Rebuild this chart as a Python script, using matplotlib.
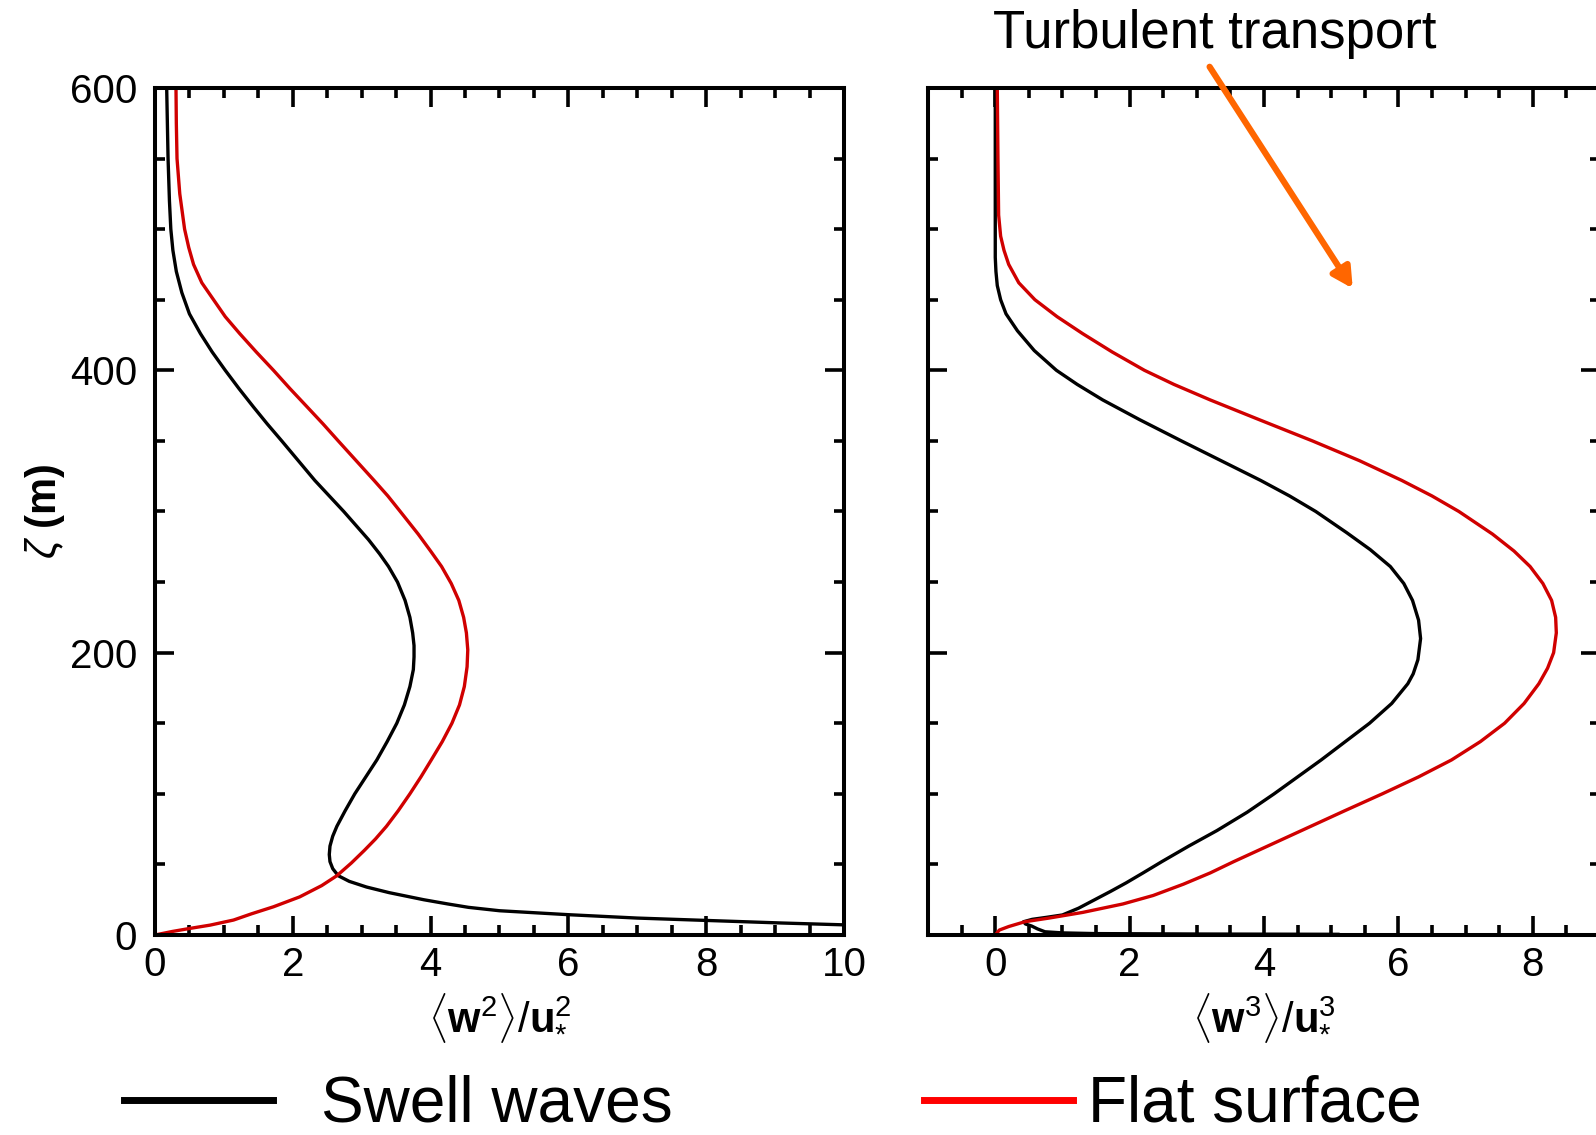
import matplotlib.pyplot as plt
from matplotlib.lines import Line2D
from matplotlib.ticker import MultipleLocator

plt.rcParams["font.family"] = "Liberation Sans"
plt.rcParams["mathtext.fontset"] = "custom"
plt.rcParams["mathtext.rm"] = "Liberation Sans"
plt.rcParams["mathtext.bf"] = "Liberation Sans:bold"
plt.rcParams["mathtext.it"] = "Liberation Sans:italic"

# <w^2>/u*^2 profiles
zeta_w2_swell = [600, 550, 520, 500, 485, 470, 455, 440, 426, 413, 400, 387, 374, 362, 350,
                 336, 322, 311, 300, 290, 280, 270, 261, 250, 237, 225, 214, 205, 197, 188,
                 176, 163, 150, 137, 124, 112, 100, 88, 77, 70, 63, 57, 52, 47, 42, 38, 34,
                 30, 27, 25, 22, 19.6, 17.2, 14.4, 12, 10, 8.5, 7.2]
w2_swell = [0.17, 0.19, 0.21, 0.23, 0.26, 0.31, 0.39, 0.50, 0.66, 0.83, 1.02, 1.22, 1.43,
            1.63, 1.84, 2.08, 2.32, 2.53, 2.74, 2.92, 3.10, 3.26, 3.39, 3.52, 3.63, 3.70,
            3.74, 3.76, 3.76, 3.75, 3.70, 3.62, 3.51, 3.37, 3.22, 3.06, 2.90, 2.76, 2.64,
            2.58, 2.54, 2.53, 2.54, 2.58, 2.66, 2.82, 3.07, 3.40, 3.70, 3.90, 4.25, 4.55,
            5.00, 6.00, 7.00, 8.20, 9.10, 10.0]

zeta_w2_flat = [600, 575, 550, 525, 500, 487, 475, 462, 450, 438, 426, 413, 400, 387, 374,
                362, 350, 336, 322, 311, 300, 284, 272, 261, 249, 237, 225, 214, 202, 190,
                176, 163, 150, 137, 124, 112, 100, 88, 77, 68, 60, 51, 42, 35, 27, 20, 15,
                10.6, 7, 4.7, 2.5, 0]
w2_flat = [0.305, 0.31, 0.32, 0.36, 0.43, 0.49, 0.56, 0.68, 0.85, 1.02, 1.23, 1.47, 1.72,
           1.96, 2.21, 2.44, 2.66, 2.92, 3.18, 3.38, 3.56, 3.82, 4.00, 4.16, 4.30, 4.41,
           4.48, 4.52, 4.54, 4.53, 4.49, 4.42, 4.31, 4.17, 4.01, 3.86, 3.70, 3.53, 3.36,
           3.20, 3.04, 2.85, 2.64, 2.42, 2.10, 1.72, 1.40, 1.14, 0.80, 0.51, 0.25, 0.0]

# <w^3>/u*^3 profiles
zeta_w3_swell = [600, 520, 480, 470, 460, 450, 440, 428, 414, 400, 390, 379, 365, 350, 336,
                 322, 311, 300, 285, 273, 261, 249, 237, 223, 210, 195, 185, 178, 164, 150,
                 137, 124, 112, 100, 87, 74, 63, 52, 44, 37, 31, 25, 19, 14.2, 12.5, 11.1,
                 9.4, 7.8, 6.4, 4.3, 2.3, 1.5, 1.0, 0.7, 0.5]
w3_swell = [0.0, 0.0, 0.0, 0.01, 0.03, 0.08, 0.16, 0.33, 0.58, 0.91, 1.22, 1.60, 2.15, 2.77,
            3.36, 3.95, 4.38, 4.77, 5.23, 5.58, 5.88, 6.08, 6.21, 6.30, 6.33, 6.29, 6.22,
            6.14, 5.90, 5.57, 5.21, 4.85, 4.50, 4.15, 3.75, 3.30, 2.88, 2.48, 2.20, 1.95,
            1.72, 1.48, 1.24, 1.00, 0.76, 0.55, 0.42, 0.45, 0.54, 0.63, 0.74, 1.00, 1.50,
            3.00, 5.10]

zeta_w3_flat = [600, 550, 510, 495, 485, 475, 462, 450, 438, 426, 413, 400, 390, 379, 365,
                350, 336, 322, 311, 300, 284, 272, 261, 249, 237, 225, 214, 200, 189, 178,
                164, 150, 137, 124, 112, 100, 88, 76, 64, 52, 44, 36, 28, 22, 16, 12, 9.4,
                6, 3.5, 0]
w3_flat = [0.03, 0.04, 0.05, 0.08, 0.13, 0.20, 0.35, 0.59, 0.92, 1.30, 1.74, 2.22, 2.66,
           3.20, 3.93, 4.72, 5.42, 6.05, 6.50, 6.90, 7.40, 7.72, 7.96, 8.15, 8.28, 8.34,
           8.35, 8.31, 8.22, 8.09, 7.87, 7.58, 7.22, 6.79, 6.30, 5.76, 5.20, 4.65, 4.10,
           3.55, 3.20, 2.80, 2.35, 1.90, 1.30, 0.80, 0.44, 0.20, 0.06, 0.0]

swell_color = "black"
flat_color = "#d00000"


def style_axis(ax, xlim, show_ylabels):
    ax.set_xlim(*xlim)
    ax.set_ylim(0, 600)
    ax.xaxis.set_major_locator(MultipleLocator(2))
    ax.xaxis.set_minor_locator(MultipleLocator(0.5))
    ax.yaxis.set_major_locator(MultipleLocator(200))
    ax.yaxis.set_minor_locator(MultipleLocator(50))
    ax.tick_params(which="both", direction="in", top=True, right=True,
                   width=2.6, labelsize=29, labelleft=show_ylabels)
    ax.tick_params(which="major", length=14)
    ax.tick_params(which="minor", length=7.5)
    ax.tick_params(axis="x", pad=8)
    ax.tick_params(axis="y", pad=13)
    for spine in ax.spines.values():
        spine.set_linewidth(2.9)


fig = plt.figure(figsize=(15.96, 11.35), dpi=100)
ax1 = fig.add_axes([0.0971, 0.1762, 0.4317, 0.7463])
ax2 = fig.add_axes([0.5815, 0.1762, 0.4210, 0.7463])

ax1.plot(w2_swell, zeta_w2_swell, color=swell_color, lw=2.4)
ax1.plot(w2_flat, zeta_w2_flat, color=flat_color, lw=2.4)
style_axis(ax1, (0, 10), True)
ax1.set_xlabel(r"$\langle\mathbf{w}^{2}\rangle/\mathbf{u}_{*}^{2}$", fontsize=30, labelpad=5)
ax1.set_ylabel(r"$\zeta$ (m)", fontsize=30, fontweight="bold")
ax1.yaxis.set_label_coords(-0.128, 0.5)

ax2.plot(w3_swell, zeta_w3_swell, color=swell_color, lw=2.4)
ax2.plot(w3_flat, zeta_w3_flat, color=flat_color, lw=2.4)
style_axis(ax2, (-1, 9), False)
ax2.set_xlabel(r"$\langle\mathbf{w}^{3}\rangle/\mathbf{u}_{*}^{3}$", fontsize=30, labelpad=5)

ax2.annotate("", xy=(5.32, 458), xytext=(3.19, 615),
             arrowprops=dict(arrowstyle="-|>,head_length=0.6,head_width=0.32",
                             color="#ff6600", lw=4.5, mutation_scale=20,
                             shrinkA=0, shrinkB=0),
             annotation_clip=False)
fig.text(1215 / 1596, 1 - 48 / 1135, "Turbulent transport", ha="center",
         va="baseline", fontsize=38)

legend_y = 1 - 1105 / 1135
fig.legend(handles=[Line2D([], [], color="black", lw=5)], labels=["Swell waves"],
           loc="center left", bbox_to_anchor=(124 / 1596, legend_y), frameon=False,
           fontsize=46, handlelength=2.33, handletextpad=0.75, borderpad=0,
           borderaxespad=0)
fig.legend(handles=[Line2D([], [], color="#ff0000", lw=5)], labels=["Flat surface"],
           loc="center left", bbox_to_anchor=(924 / 1596, legend_y), frameon=False,
           fontsize=46, handlelength=2.33, handletextpad=0.23, borderpad=0,
           borderaxespad=0)

fig.savefig("out.png", dpi=100)
